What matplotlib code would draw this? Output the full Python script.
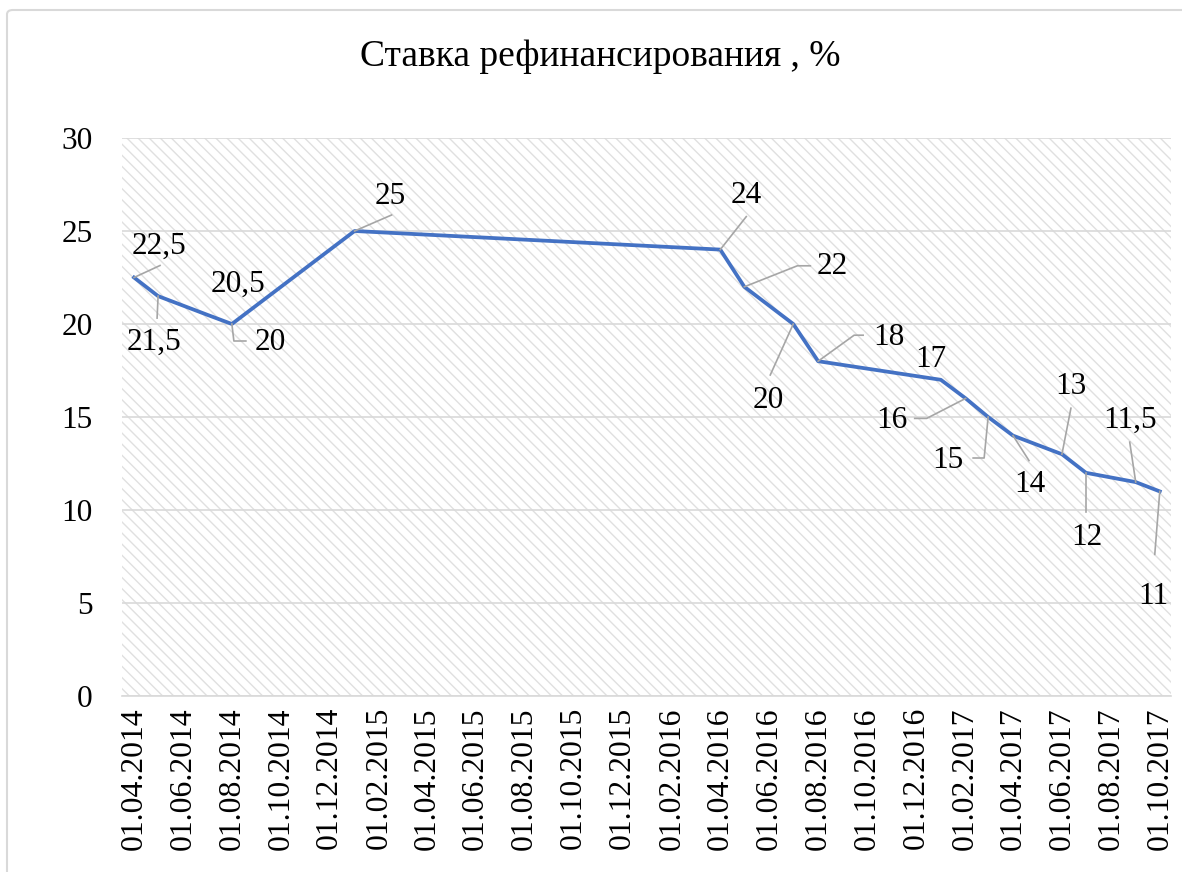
import matplotlib
matplotlib.use("Agg")
import matplotlib.pyplot as plt
import matplotlib.dates as mdates
from matplotlib.patches import Rectangle, FancyBboxPatch
import datetime as dt

plt.rcParams['font.family'] = ['Liberation Serif', 'DejaVu Serif']
plt.rcParams['hatch.linewidth'] = 1.0

# ---- data ----
dates = ["01.04.2014", "01.05.2014", "01.07.2014", "01.08.2014", "01.01.2015",
         "01.04.2016", "01.05.2016", "01.07.2016", "01.08.2016", "01.01.2017",
         "01.02.2017", "01.03.2017", "01.04.2017", "01.06.2017", "01.07.2017",
         "01.09.2017", "01.10.2017"]
rates = [22.5, 21.5, 20.5, 20, 25, 24, 22, 20, 18, 17, 16, 15, 14, 13, 12, 11.5, 11]
title = "Ставка рефинансирования , %"
tick_start, tick_end = "01.04.2014", "01.10.2017"
y_ticks = [0, 5, 10, 15, 20, 25, 30]

# label layout (pixel offsets, image coords: +x right, +y down): label centre, leader path
label_offsets = [(25, -31), (-4, 46), (31, -30), (38, 18), (36, -35),
                 (26, -54), (88, -20), (-25, 76), (71, -24), (-10, -20),
                 (-74, 22), (-40, 43), (17, 49), (9, -68), (1, 65),
                 (-6, -62), (-6, 105)]
leaders = [[(0, 0), (26, -12)], [(0, 0), (-1, 22)], None, [(0, 0), (2, 17), (14, 17)],
           [(0, 0), (37, -16)], [(0, 0), (26, -33)], [(0, 0), (53, -21), (66, -21)],
           [(0, 0), (-23, 51)], [(0, 0), (36, -26), (45, -26)], None,
           [(0, 0), (-39, 20), (-51, 20)], [(0, 0), (-4, 41), (-15, 41)],
           [(0, 0), (16, 25)], [(0, 0), (9, -46)], [(0, 0), (0, 39)],
           [(0, 0), (-6, -40)], [(0, 0), (-5, 63)]]

W, H = 1182, 872
fig = plt.figure(figsize=(W / 100, H / 100), dpi=100)
fig.patch.set_facecolor('white')

# chart border
border = FancyBboxPatch((7 / W, -0.05), 1.2, (H - 10) / H + 0.05, boxstyle="round,pad=0,rounding_size=0.005",
                        transform=fig.transFigure, facecolor='none', edgecolor='#d9d9d9', lw=1.5)
fig.patches.append(border)

ax = fig.add_axes([122 / W, (H - 696) / H, (1171 - 122) / W, (696 - 138) / H])
ax.set_facecolor('white')
ax.add_patch(Rectangle((0, 0), 1, 1, transform=ax.transAxes, facecolor='white',
                       edgecolor='#e0e0e0', hatch='\\\\\\', lw=0, zorder=0))

x = [dt.datetime.strptime(d, "%d.%m.%Y") for d in dates]
ax.plot(x, rates, color='#4472C4', lw=2.7, zorder=3, solid_joinstyle='round')

t0 = dt.datetime.strptime(tick_start, "%d.%m.%Y")
t1 = dt.datetime.strptime(tick_end, "%d.%m.%Y")
ax.set_xlim(t0 - dt.timedelta(days=15), t1 + dt.timedelta(days=14))
ax.set_ylim(0, 30)
ax.set_yticks(y_ticks)
ax.xaxis.set_major_locator(mdates.MonthLocator(bymonth=[2, 4, 6, 8, 10, 12], bymonthday=1))
ax.xaxis.set_major_formatter(mdates.DateFormatter("%d.%m.%Y"))
ax.tick_params(axis='x', length=0, pad=8, labelsize=22.8, rotation=90)
ax.tick_params(axis='y', length=0, pad=21, labelsize=22.5)
for s in ['top', 'right', 'left']:
    ax.spines[s].set_visible(False)
ax.spines['bottom'].set_color('#d9d9d9')
ax.spines['bottom'].set_linewidth(1.2)
ax.grid(axis='y', color='#d9d9d9', lw=1.2, zorder=1)
ax.set_axisbelow(True)

fig.text(600 / W, 1 - 57 / H, title, ha='center', va='center', fontsize=27)

# data labels and leader lines
fig.canvas.draw()
for xi, yi, (dx, dy), path in zip(x, rates, label_offsets, leaders):
    px, py = ax.transData.transform((mdates.date2num(xi), yi))
    lbl = ('%g' % yi).replace('.', ',')
    ax.annotate(lbl, (xi, yi), xytext=(dx, -dy), textcoords='offset pixels',
                ha='center', va='center', fontsize=22.5, zorder=5)
    if path:
        xs = [px + p[0] for p in path]
        ys = [py - p[1] for p in path]
        fig.add_artist(plt.Line2D(xs, ys, transform=None, color='#a6a6a6', lw=1.2, zorder=4))

fig.savefig("out.png", dpi=100)
